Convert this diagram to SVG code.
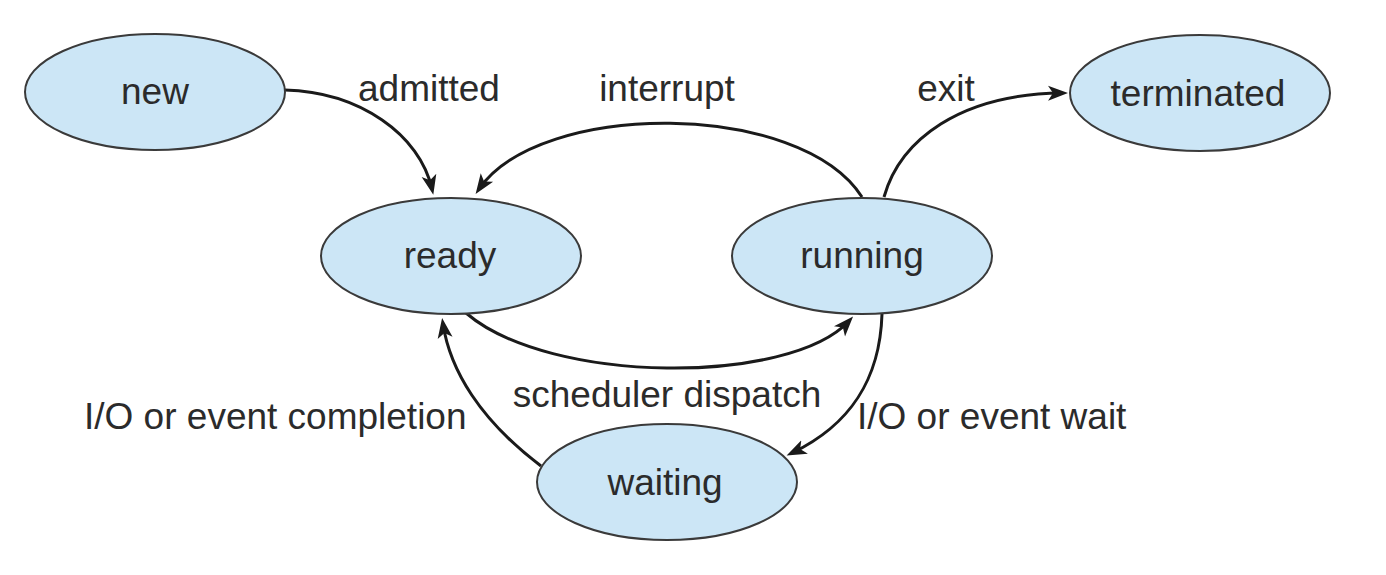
<svg xmlns="http://www.w3.org/2000/svg" width="1386" height="575" viewBox="0 0 1386 575">
<style>
.node{fill:#cce6f6;stroke:#3a3a3a;stroke-width:2}
.lbl{font-family:"Liberation Sans",Arial,Helvetica,sans-serif;font-size:37px;fill:#2b2b2b}
.mid{text-anchor:middle}
.edge{fill:none;stroke:#1a1a1a;stroke-width:3}
</style>
<defs>
<marker id="arr" markerUnits="userSpaceOnUse" markerWidth="22" markerHeight="18" refX="14" refY="9" orient="auto" viewBox="0 0 22 18">
<path d="M0,1.5 L20,9 L0,16.5 L5,9 Z" fill="#1a1a1a"/>
</marker>
</defs>
<rect width="1386" height="575" fill="#ffffff"/>
<g id="connectors">
<path class="edge" marker-end="url(#arr)" d="M285,90 C360,92 420,135 432,189"/>
<path class="edge" marker-end="url(#arr)" d="M862,197 C800,100 540,100 479,189"/>
<path class="edge" marker-end="url(#arr)" d="M884,197 C900,140 960,94 1062,93"/>
<path class="edge" marker-end="url(#arr)" d="M466,313 C550,385 790,385 849,321"/>
<path class="edge" marker-end="url(#arr)" d="M882,314 C880,380 850,425 792,453"/>
<path class="edge" marker-end="url(#arr)" d="M541,466 C480,420 450,370 443,324"/>
<text class="lbl mid" x="429" y="101">admitted</text>
<text class="lbl mid" x="667" y="101">interrupt</text>
<text class="lbl mid" x="946" y="101">exit</text>
<text class="lbl mid" x="667" y="407">scheduler dispatch</text>
<text class="lbl" x="84" y="429">I/O or event completion</text>
<text class="lbl" x="857" y="429">I/O or event wait</text>
</g>
<g id="new">
<ellipse class="node" cx="155" cy="92" rx="130" ry="58"/>
<text class="lbl mid" x="155" y="104">new</text>
</g>
<g id="terminated">
<ellipse class="node" cx="1200" cy="93" rx="130" ry="58"/>
<text class="lbl mid" x="1198" y="106">terminated</text>
</g>
<g id="ready">
<ellipse class="node" cx="451" cy="256" rx="130" ry="58"/>
<text class="lbl mid" x="450" y="268">ready</text>
</g>
<g id="running">
<ellipse class="node" cx="862" cy="256" rx="130" ry="58"/>
<text class="lbl mid" x="862" y="268">running</text>
</g>
<g id="waiting">
<ellipse class="node" cx="667" cy="482" rx="130" ry="58"/>
<text class="lbl mid" x="665" y="495">waiting</text>
</g>
</svg>
